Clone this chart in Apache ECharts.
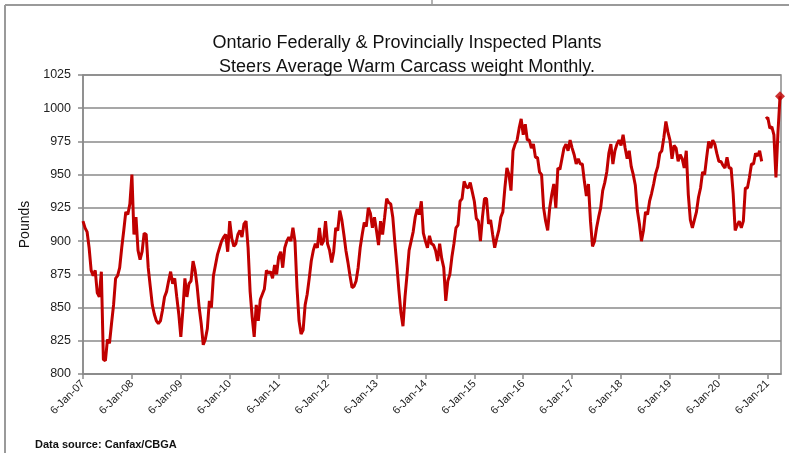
<!DOCTYPE html>
<html>
<head>
<meta charset="utf-8">
<script src="https://cdn.jsdelivr.net/npm/echarts@6/dist/echarts.min.js"></script>
<style>
html,body{margin:0;padding:0;background:#fff;}
#chart{width:789px;height:453px;}
</style>
</head>
<body>
<div id="chart"></div>
<script>
// Semi-monthly readings (24 per year), starting 6-Jan-07
const y2007 = [915, 910, 907, 895, 878, 874, 878, 861, 858, 877, 811, 810, 826, 823, 838, 852, 872, 874, 880, 895, 908, 922, 920, 928];
const y2008 = [950, 905, 918, 893, 886, 892, 906, 905, 880, 866, 852, 845, 840, 838, 840, 848, 858, 862, 870, 877, 868, 872, 858, 845];
const y2009 = [828, 848, 872, 858, 868, 870, 885, 878, 866, 850, 838, 822, 826, 834, 855, 850, 874, 882, 890, 895, 900, 903, 905, 892];
const y2010 = [915, 902, 896, 898, 905, 908, 903, 913, 915, 895, 862, 843, 828, 852, 840, 856, 860, 864, 878, 876, 877, 872, 882, 875];
const y2011 = [888, 892, 880, 895, 900, 903, 900, 910, 900, 865, 840, 830, 833, 852, 860, 872, 885, 893, 898, 895, 910, 897, 900, 915];
const y2012 = [898, 893, 884, 892, 910, 908, 923, 916, 905, 893, 884, 874, 865, 866, 870, 880, 895, 905, 914, 911, 925, 921, 910, 918];
const y2013 = [908, 897, 915, 905, 918, 932, 929, 928, 918, 899, 882, 863, 846, 836, 858, 875, 893, 900, 907, 918, 924, 920, 930, 906];
const y2014 = [900, 895, 904, 898, 897, 893, 885, 898, 887, 880, 855, 870, 875, 888, 898, 910, 912, 930, 932, 945, 941, 940, 944, 937];
const y2015 = [930, 917, 915, 900, 918, 932, 932, 913, 916, 905, 895, 902, 908, 918, 922, 940, 955, 950, 938, 968, 973, 976, 985, 992];
const y2016 = [980, 988, 976, 976, 970, 973, 963, 963, 952, 950, 925, 915, 908, 925, 935, 943, 925, 955, 954, 962, 970, 973, 968, 976];
const y2017 = [970, 965, 958, 962, 958, 958, 945, 934, 943, 915, 896, 900, 910, 918, 925, 938, 944, 952, 966, 973, 958, 968, 973, 976];
const y2018 = [972, 980, 970, 962, 968, 956, 950, 942, 923, 913, 900, 908, 922, 920, 930, 936, 943, 951, 956, 966, 968, 978, 990, 982];
const y2019 = [976, 962, 972, 970, 960, 965, 962, 955, 968, 935, 916, 910, 916, 922, 933, 940, 952, 950, 963, 975, 970, 976, 973, 966];
const y2020 = [960, 960, 957, 955, 963, 955, 955, 936, 908, 912, 915, 910, 915, 940, 940, 948, 958, 958, 966, 964, 968, 960, null, 992];
const y2021 = [993, 985, 986, 980, 948, 982, 1009];

const xTickLabels = ['6-Jan-07','6-Jan-08','6-Jan-09','6-Jan-10','6-Jan-11','6-Jan-12','6-Jan-13','6-Jan-14','6-Jan-15','6-Jan-16','6-Jan-17','6-Jan-18','6-Jan-19','6-Jan-20','6-Jan-21'];
const pointsPerYear = 24;

const all = [].concat(y2007,y2008,y2009,y2010,y2011,y2012,y2013,y2014,y2015,y2016,y2017,y2018,y2019,y2020,y2021);
const lineData = all.map((v,i) => [i / pointsPerYear, v]);
const lastData = [lineData[lineData.length - 1]];

const chart = echarts.init(document.getElementById('chart'));
const gridColor = '#8a8a8a';
chart.setOption({
  animation: false,
  backgroundColor: '#fff',
  title: {
    text: 'Ontario Federally & Provincially Inspected Plants\nSteers Average Warm Carcass weight Monthly.',
    left: 402, top: 26, textAlign: 'center',
    textStyle: { fontFamily: 'Liberation Sans, sans-serif', fontSize: 18, fontWeight: 'normal', color: '#111', lineHeight: 24 }
  },
  grid: { left: 83, right: 8, top: 75, bottom: 79, show: true, borderColor: gridColor, borderWidth: 1.5 },
  xAxis: {
    type: 'value', min: 0, max: 14.27, interval: 1,
    axisLine: { lineStyle: { color: gridColor, width: 1.5 } },
    axisTick: { show: true, length: 5, lineStyle: { color: gridColor, width: 1.5 } },
    splitLine: { show: false },
    axisLabel: {
      rotate: 45, color: '#222', fontSize: 11, fontFamily: 'Liberation Sans, sans-serif', margin: 8,
      showMaxLabel: false,
      formatter: v => Number.isInteger(v) && xTickLabels[v] ? xTickLabels[v] : ''
    }
  },
  yAxis: {
    type: 'value', min: 800, max: 1025, interval: 25,
    name: 'Pounds', nameLocation: 'middle', nameGap: 46, nameRotate: 90,
    nameTextStyle: { fontSize: 14, color: '#111', fontFamily: 'Liberation Sans, sans-serif' },
    axisLine: { show: true, lineStyle: { color: gridColor, width: 1.5 } },
    axisTick: { show: true, length: 5, lineStyle: { color: gridColor, width: 1.5 } },
    splitLine: { lineStyle: { color: gridColor, width: 1.5 } },
    axisLabel: { color: '#222', fontSize: 12.5, fontFamily: 'Liberation Sans, sans-serif', margin: 12, formatter: v => String(v) }
  },
  graphic: [
    { type: 'line', shape: { x1: 5, y1: 5, x2: 789, y2: 5 }, style: { stroke: '#9a9a9a', lineWidth: 2 } },
    { type: 'line', shape: { x1: 5, y1: 5, x2: 5, y2: 453 }, style: { stroke: '#9a9a9a', lineWidth: 2 } },
    { type: 'line', shape: { x1: 432, y1: 0, x2: 432, y2: 5 }, style: { stroke: '#9a9a9a', lineWidth: 1.5 } },
    { type: 'text', left: 35, top: 439, style: { text: 'Data source: Canfax/CBGA', font: 'bold 11px Liberation Sans, sans-serif', fill: '#111' } }
  ],
  series: [
    {
      type: 'line', data: lineData, showSymbol: false, connectNulls: false,
      lineStyle: { color: '#C00000', width: 3 }, itemStyle: { color: '#C00000' }
    },
    {
      type: 'scatter', data: lastData, symbol: 'diamond', symbolSize: 10,
      itemStyle: { color: '#C00000' }
    }
  ]
});
</script>
</body>
</html>
